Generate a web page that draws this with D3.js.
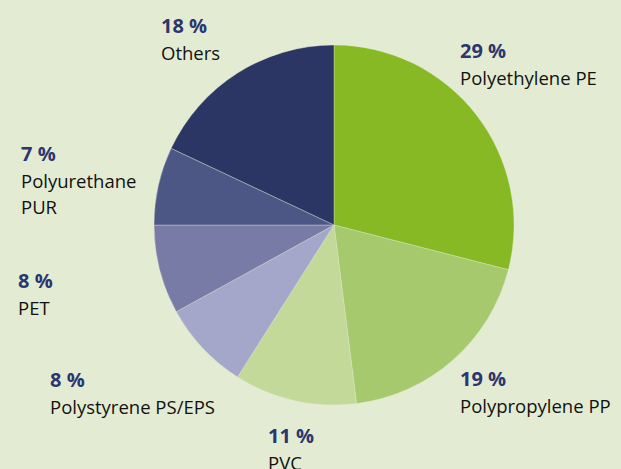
<!DOCTYPE html>
<html>
  <head>
    <meta charset="UTF-8" />
    <script src="https://cdnjs.cloudflare.com/ajax/libs/d3/7.8.5/d3.min.js"></script>
    <style>
      body { margin: 0; background: #e3ecd3; }
      text { font-family: "Open Sans", "Noto Sans", sans-serif; }
      .pct { fill: #2b3670; font-weight: bold; font-size: 20px; }
      .name { fill: #111; font-size: 18.5px; }
    </style>
  </head>
  <body>
    <svg id="chart" width="621" height="469"></svg>
    <script>
      // plastics share, clockwise from 12 o'clock
      const categories = [
        "Polyethylene PE",
        "Polypropylene PP",
        "PVC",
        "Polystyrene PS/EPS",
        "PET",
        "Polyurethane PUR",
        "Others"
      ];
      const values = [29, 19, 11, 8, 8, 7, 18];
      const colors = ["#86b923", "#a7c96e", "#c2d999", "#a4a7c9", "#797ba7", "#4d5786", "#2c3664"];

      // label text lines (name may wrap)
      const nameLines = [
        ["Polyethylene PE"],
        ["Polypropylene PP"],
        ["PVC"],
        ["Polystyrene PS/EPS"],
        ["PET"],
        ["Polyurethane", "PUR"],
        ["Others"]
      ];
      // label anchor positions (x, y of pct baseline)
      const labelPos = [
        [460, 58],
        [460, 386],
        [268, 443],
        [50, 387],
        [18, 288],
        [21, 161],
        [161, 33]
      ];

      const width = 621, height = 469;
      const cx = 334, cy = 225, radius = 180;

      const svg = d3.select("#chart");
      const g = svg.append("g").attr("transform", `translate(${cx},${cy})`);

      const pie = d3.pie().sort(null).value(d => d);
      const arc = d3.arc().innerRadius(0).outerRadius(radius);

      const color = d3.scaleOrdinal().domain(categories).range(colors);

      g.selectAll("path")
        .data(pie(values))
        .enter()
        .append("path")
        .attr("d", arc)
        .attr("fill", (d, i) => color(categories[i]))
        .attr("stroke", "#e3ecd3")
        .attr("stroke-opacity", 0.6)
        .attr("stroke-width", 0.6);

      const labels = svg.selectAll("g.label")
        .data(categories)
        .enter()
        .append("g")
        .attr("class", "label")
        .attr("transform", (d, i) => `translate(${labelPos[i][0]},${labelPos[i][1]})`);

      labels.append("text")
        .attr("class", "pct")
        .text((d, i) => values[i] + " %");

      labels.each(function (d, i) {
        const sel = d3.select(this);
        nameLines[i].forEach((line, j) => {
          sel.append("text")
            .attr("class", "name")
            .attr("y", 27 + j * 26)
            .text(line);
        });
      });
    </script>
  </body>
</html>
